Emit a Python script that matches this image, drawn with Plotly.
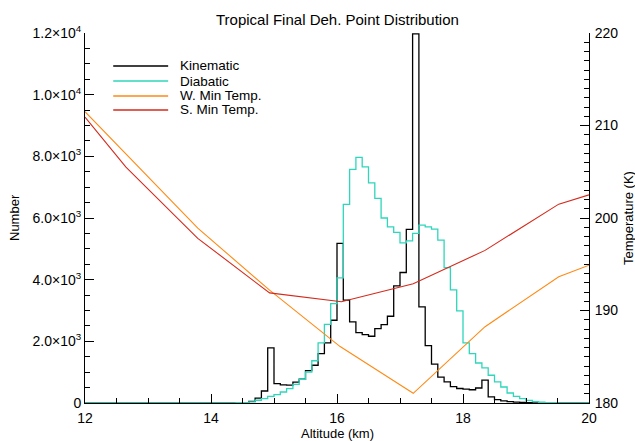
import numpy as np
import plotly.graph_objects as go

# Altitude bins (km): 0.1 km wide, from 12 to 20 km
bin_width = 0.1
bin_start = 12.0
n_bins = 80

# Counts per bin, listed from bin 12.0-12.1 upward; bins before 14.3 km are empty
kinematic_tail = [
    0, 5, 15, 55, 160, 390, 1790,            # 14.3 .. 14.9
    630, 590, 580, 680, 770, 1050, 1224, 1602, 1948, 2684,   # 15.0 .. 15.9
    5174, 3334, 2630, 2284, 2219, 2165, 2414, 2545, 2814, 3798,  # 16.0 .. 16.9
    4233, 5628, 11970, 3116, 1860, 1260, 840, 682, 530, 470,   # 17.0 .. 17.9
    450, 430, 487, 740, 200, 110, 70, 45, 30, 20,             # 18.0 .. 18.9
    12, 6, 3, 0, 0, 0, 0, 0, 0, 0,                            # 19.0 .. 19.9
]
diabatic_tail = [
    3, 8, 15, 35, 90, 140, 217,               # 14.3 .. 14.9
    270, 357, 467, 606, 770, 1006, 1370, 1948, 2550, 3226,    # 15.0 .. 15.9
    4058, 6440, 7576, 7966, 7661, 7141, 6635, 6000, 5713, 5531,  # 16.0 .. 16.9
    5194, 5259, 5499, 5768, 5713, 5638, 5281, 4390, 3670, 2986,  # 17.0 .. 17.9
    1948, 1602, 1298, 1136, 900, 682, 519, 325, 217, 143,     # 18.0 .. 18.9
    88, 45, 25, 15, 8, 4, 0, 0, 0, 0,                         # 19.0 .. 19.9
]
kinematic_counts = [0] * (n_bins - len(kinematic_tail)) + kinematic_tail
diabatic_counts = [0] * (n_bins - len(diabatic_tail)) + diabatic_tail

# Minimum temperature profiles (K)
winter_alt = [12.0, 13.79, 14.93, 16.05, 17.21, 18.35, 19.52, 20.0]
winter_temp = [211.5, 198.9, 192.2, 186.1, 181.05, 188.25, 193.65, 194.9]
summer_alt = [12.0, 12.65, 13.79, 14.93, 16.07, 17.21, 18.35, 19.52, 20.0]
summer_temp = [210.9, 205.5, 197.8, 191.9, 190.95, 192.9, 196.5, 201.5, 202.5]

series_names = ["Kinematic", "Diabatic", "W. Min Temp.", "S. Min Temp."]
series_colors = ["#000000", "#2ed6bb", "#ff8a14", "#d42a1c"]

count_ticks = [0, 2000, 4000, 6000, 8000, 10000, 12000]
count_ticktext = ["0", "2.0×10<sup>3</sup>", "4.0×10<sup>3</sup>", "6.0×10<sup>3</sup>",
                  "8.0×10<sup>3</sup>", "1.0×10<sup>4</sup>", "1.2×10<sup>4</sup>"]

edges = bin_start + bin_width * np.arange(n_bins + 1)

def step_y(counts):
    return list(counts) + [counts[-1]]

FONT = "Liberation Sans"
fig = go.Figure()

fig.add_trace(go.Scatter(x=edges, y=step_y(kinematic_counts), mode="lines",
                         line=dict(color=series_colors[0], width=1.3, shape="hv"),
                         name=series_names[0], showlegend=False))
fig.add_trace(go.Scatter(x=edges, y=step_y(diabatic_counts), mode="lines",
                         line=dict(color=series_colors[1], width=1.3, shape="hv"),
                         name=series_names[1], showlegend=False))
fig.add_trace(go.Scatter(x=winter_alt, y=winter_temp, mode="lines", yaxis="y2",
                         line=dict(color=series_colors[2], width=1.1),
                         name=series_names[2], showlegend=False))
fig.add_trace(go.Scatter(x=summer_alt, y=summer_temp, mode="lines", yaxis="y2",
                         line=dict(color=series_colors[3], width=1.1),
                         name=series_names[3], showlegend=False))

axis_common = dict(showgrid=False, zeroline=False, showline=True, linecolor="#000000",
                   linewidth=1, ticks="inside", ticklen=9, tickcolor="#000000",
                   tickfont=dict(family=FONT, size=14, color="#000000"))

fig.update_layout(
    width=635, height=441,
    margin=dict(l=85, r=46, t=33, b=38),
    paper_bgcolor="#ffffff", plot_bgcolor="#ffffff",
    showlegend=False,
    xaxis=dict(range=[12, 20], tickvals=[12, 14, 16, 18, 20], ticklabelstandoff=2,
               minor=dict(dtick=0.5, tick0=12, ticks="inside", ticklen=5, tickcolor="#000000"),
               **axis_common),
    yaxis=dict(range=[0, 12000], tickvals=count_ticks, ticktext=count_ticktext,
               minor=dict(dtick=500, tick0=0, ticks="inside", ticklen=5, tickcolor="#000000"),
               **axis_common),
    yaxis2=dict(range=[180, 220], overlaying="y", side="right", tickvals=[180, 190, 200, 210, 220],
                ticklabelstandoff=2,
                minor=dict(dtick=1, tick0=180, ticks="inside", ticklen=5, tickcolor="#000000"),
                **axis_common),
)

# Title and axis titles
fig.add_annotation(text="Tropical Final Deh. Point Distribution", xref="paper", yref="paper",
                   x=0.5, y=1, yshift=14, yanchor="middle", showarrow=False,
                   font=dict(family=FONT, size=15, color="#000000"))
fig.add_annotation(text="Altitude (km)", xref="paper", yref="paper", x=0.5, y=0,
                   yshift=-30.5, yanchor="middle", showarrow=False, borderpad=0,
                   font=dict(family=FONT, size=13, color="#000000"))
fig.add_annotation(text="Number", xref="paper", yref="paper", x=0, y=0.5,
                   xshift=-71, xanchor="center", textangle=-90, showarrow=False,
                   font=dict(family=FONT, size=13, color="#000000"))
fig.add_annotation(text="Temperature (K)", xref="paper", yref="paper", x=1, y=0.5,
                   xshift=39, xanchor="center", textangle=-90, showarrow=False,
                   font=dict(family=FONT, size=13, color="#000000"))

# Legend block in the upper left of the plot
leg_x0, leg_x1, leg_text_x = 0.056, 0.165, 0.185
leg_rows = [0.911, 0.870, 0.830, 0.792]
for name, color, ly in zip(series_names, series_colors, leg_rows):
    fig.add_shape(type="line", xref="paper", yref="paper", x0=leg_x0, x1=leg_x1, y0=ly, y1=ly,
                  line=dict(color=color, width=1.5))
    fig.add_annotation(text=name, xref="paper", yref="paper", x=leg_text_x, y=ly,
                       xanchor="left", yanchor="middle", showarrow=False,
                       font=dict(family=FONT, size=13.5, color="#000000"))

fig.write_html("out.html")
